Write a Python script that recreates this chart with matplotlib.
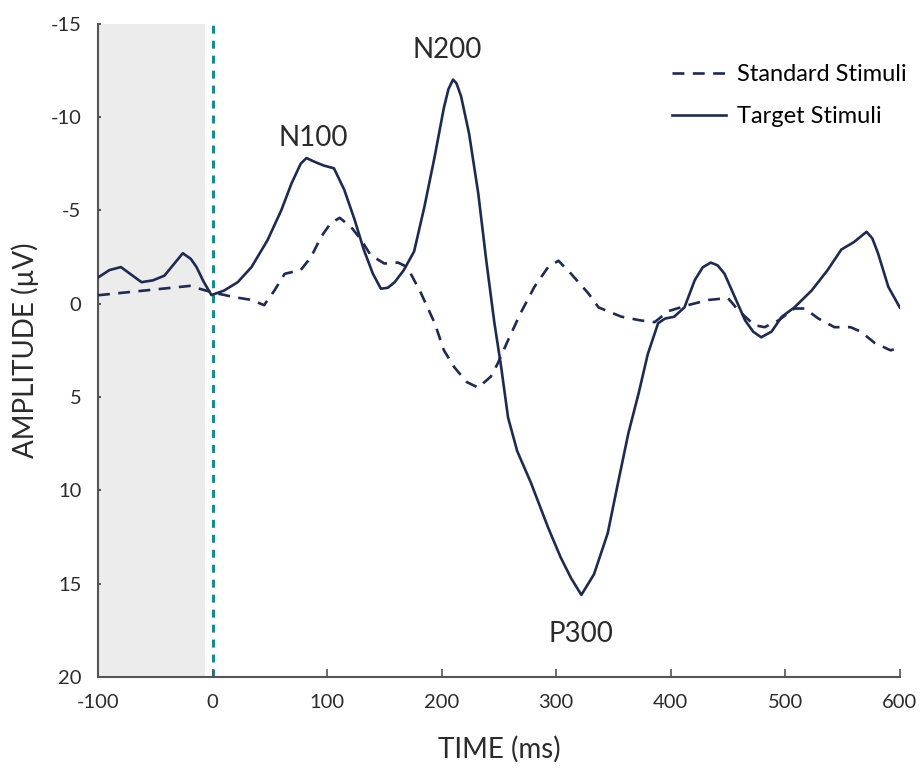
import numpy as np
import matplotlib.pyplot as plt

plt.rcParams['font.family'] = ['Lato', 'DejaVu Sans']
plt.rcParams['axes.unicode_minus'] = False

# ERP averages, time in ms, amplitude in microvolts (negative plotted up)
target_t = [-100, -90, -80, -72, -62, -52, -42, -34, -26, -19, -14, -8, -1,
            10, 22, 34, 48, 60, 69, 77, 82, 89, 97, 106, 115, 124, 132, 140,
            147, 153, 159, 167, 176, 185, 194, 202, 206, 210, 213, 217, 224,
            232, 239, 246, 252, 258, 266, 278, 293, 304, 313, 322, 333, 345,
            354, 363, 372, 380, 389, 395, 403, 412, 421, 428, 435, 441, 447,
            456, 465, 472, 479, 488, 497, 508, 523, 537, 549, 560, 571, 576,
            581, 590, 600]
target_amp = [-1.4, -1.8, -1.96, -1.6, -1.15, -1.25, -1.5, -2.1, -2.7, -2.4,
              -1.96, -1.2, -0.46, -0.7, -1.15, -1.96, -3.4, -5.0, -6.45, -7.5,
              -7.8, -7.6, -7.4, -7.25, -6.1, -4.5, -2.9, -1.6, -0.8, -0.85,
              -1.15, -1.8, -2.8, -5.2, -7.9, -10.5, -11.5, -12.0, -11.8, -11.1,
              -9.1, -5.9, -2.3, 1.0, 3.4, 6.1, 7.9, 9.6, 12.0, 13.6, 14.7,
              15.6, 14.5, 12.3, 9.6, 6.95, 4.8, 2.7, 1.05, 0.8, 0.7, 0.2,
              -1.26, -1.95, -2.2, -2.05, -1.6, -0.35, 0.9, 1.5, 1.8, 1.5, 0.7,
              0.2, -0.7, -1.8, -2.9, -3.3, -3.85, -3.5, -2.7, -0.9, 0.2]

standard_t = [-100, -60, -20, 0, 19, 34, 45, 54, 63, 77, 86, 95, 103, 111,
              121, 130, 138, 150, 162, 170, 182, 194, 202, 211, 222, 232, 243,
              249, 258, 269, 281, 293, 302, 313, 328, 337, 345, 357, 374, 386,
              398, 415, 433, 450, 459, 473, 482, 494, 508, 517, 529, 543, 557,
              566, 578, 592, 597]
standard_amp = [-0.45, -0.7, -0.95, -0.6, -0.35, -0.2, 0.08, -0.7, -1.6, -1.8,
                -2.5, -3.6, -4.3, -4.6, -4.1, -3.4, -2.6, -2.15, -2.2, -1.96,
                -0.56, 1.05, 2.5, 3.4, 4.2, 4.5, 3.9, 3.2, 1.96, 0.5, -0.9,
                -1.96, -2.3, -1.6, -0.56, 0.2, 0.4, 0.7, 0.9, 0.99, 0.4, 0.08,
                -0.2, -0.3, 0.35, 1.15, 1.26, 0.9, 0.26, 0.26, 0.8, 1.26, 1.26,
                1.5, 2.1, 2.5, 2.4]

peak_names = ['N100', 'N200', 'P300']
peak_pos = [(88, -8.9), (205, -13.6), (322, 17.7)]

x_ticks = [-100, 0, 100, 200, 300, 400, 500, 600]
y_ticks = [-15, -10, -5, 0, 5, 10, 15, 20]

ink = '#1e2a4f'
text_col = '#2b2b2b'

fig = plt.figure(figsize=(9.22, 7.72), dpi=100)
ax = fig.add_axes([0.1063, 0.123, 0.8696, 0.8464])

# baseline window and stimulus onset
ax.axvspan(-100, -7, color='#ececec', lw=0, zorder=0)
ax.axvline(0, color='#1b8a8c', lw=2.2, dashes=(2.6, 2.3), zorder=1)

ax.plot(standard_t, standard_amp, color=ink, lw=1.9, dashes=(4.5, 3.2),
        label='Standard Stimuli', zorder=3, solid_joinstyle='round')
ax.plot(target_t, target_amp, color=ink, lw=1.9, label='Target Stimuli',
        zorder=3, solid_joinstyle='round')

for name, (px, py) in zip(peak_names, peak_pos):
    ax.text(px, py, name, fontsize=20, color=text_col, ha='center',
            va='center')

ax.set_xlim(-100, 600)
ax.set_ylim(20, -15)
ax.set_xticks(x_ticks)
ax.set_yticks(y_ticks)
ax.tick_params(axis='x', direction='in', length=6, width=1.2,
               colors='#555555', labelcolor=text_col, labelsize=14.5, pad=12)
ax.tick_params(axis='y', direction='in', length=2.5, width=1.5,
               colors='#555555', labelcolor=text_col, labelsize=14.5, pad=12)

for side in ['top', 'right']:
    ax.spines[side].set_visible(False)
for side in ['left', 'bottom']:
    ax.spines[side].set_color('#555555')
    ax.spines[side].set_linewidth(1.5)

ax.set_xlabel('TIME (ms)', fontsize=20, color=text_col, labelpad=18)
ax.set_ylabel('AMPLITUDE (µV)', fontsize=20, color=text_col, labelpad=8)

ax.legend(loc='upper left', bbox_to_anchor=(0.729, 0.917),
          bbox_transform=fig.transFigure, frameon=False, fontsize=17,
          handlelength=2.3, handletextpad=0.45, labelspacing=0.9,
          borderaxespad=0, borderpad=0)

fig.savefig('out.png', dpi=100)
